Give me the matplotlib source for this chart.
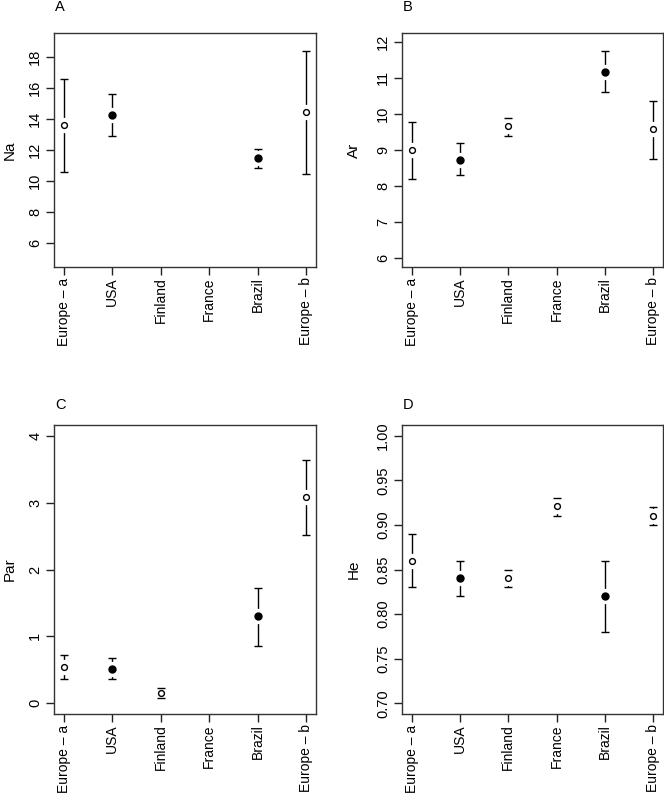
import matplotlib
matplotlib.use("Agg")
import matplotlib.pyplot as plt
import numpy as np

plt.rcParams['font.family'] = ['Liberation Sans', 'DejaVu Sans']
plt.rcParams['font.size'] = 10.5

sites = ["Europe – a", "USA", "Finland", "France", "Brazil", "Europe – b"]
filled = [False, True, False, False, True, False]

# mean, lower, upper per site (None = no data)
na_mean = [13.6, 14.27, None, None, 11.46, 14.44]
na_low = [10.6, 12.93, None, None, 10.86, 10.47]
na_high = [16.58, 15.6, None, None, 12.06, 18.39]

ar_mean = [9.0, 8.73, 9.66, None, 11.17, 9.58]
ar_low = [8.2, 8.30, 9.39, None, 10.6, 8.76]
ar_high = [9.78, 9.19, 9.9, None, 11.73, 10.37]

par_mean = [0.55, 0.52, 0.155, None, 1.30, 3.09]
par_low = [0.36, 0.36, 0.08, None, 0.86, 2.52]
par_high = [0.72, 0.67, 0.23, None, 1.73, 3.64]

he_mean = [0.86, 0.84, 0.84, 0.921, 0.82, 0.91]
he_low = [0.83, 0.82, 0.83, 0.91, 0.78, 0.90]
he_high = [0.89, 0.86, 0.85, 0.93, 0.86, 0.92]

panels = [
    ("A", "Na", na_mean, na_low, na_high, (5, 19), [6, 8, 10, 12, 14, 16, 18], "{:g}"),
    ("B", "Ar", ar_mean, ar_low, ar_high, (6, 12), [6, 7, 8, 9, 10, 11, 12], "{:g}"),
    ("C", "Par", par_mean, par_low, par_high, (0, 4), [0, 1, 2, 3, 4], "{:g}"),
    ("D", "He", he_mean, he_low, he_high, (0.7, 1.0),
     [0.70, 0.75, 0.80, 0.85, 0.90, 0.95, 1.00], "{:.2f}"),
]

W, H = 664, 794
# axes boxes in pixels: left, top, right, bottom
boxes = [(54, 33, 316, 267), (402, 33, 663, 267),
         (54, 425, 316, 714), (402, 425, 663, 714)]
letter_pos = [(55, 7), (403, 7), (55, 405), (403, 405)]
ylabel_x = [10, 354, 10, 354]

fig = plt.figure(figsize=(W / 100, H / 100), dpi=100)

for i, (letter, name, mean, low, high, lim, ticks, fmt) in enumerate(panels):
    l, t, r, b = boxes[i]
    ax = fig.add_axes([l / W, 1 - b / H, (r - l) / W, (b - t) / H])
    x = np.arange(1, 7)
    for j in range(6):
        if mean[j] is None:
            continue
        m = mean[j]
        _, caps, _ = ax.errorbar([x[j]], [m], yerr=[[m - low[j]], [high[j] - m]],
                                 fmt="none", ecolor="black", elinewidth=1.0,
                                 capsize=3.2, capthick=1.0, zorder=2)
        for c in caps:
            c.set_zorder(5)
        # white halo to make a gap in the bar around the point
        ax.plot([x[j]], [m], "o", ms=10, mfc="white", mec="white", zorder=3)
        if filled[j]:
            ax.plot([x[j]], [m], "o", ms=5, mfc="black", mec="black", zorder=4)
        else:
            ax.plot([x[j]], [m], "o", ms=4.2, mfc="white", mec="black",
                    mew=1.0, zorder=4)

    span = lim[1] - lim[0]
    ax.set_ylim(lim[0] - 0.04 * span, lim[1] + 0.04 * span)
    ax.set_xlim(0.8, 6.2)
    ax.set_xticks(x)
    ax.set_xticklabels(sites, rotation=90, fontsize=10)
    ax.set_yticks(ticks)
    ax.set_yticklabels([fmt.format(v) for v in ticks], rotation=90, va="center")
    ax.tick_params(direction="out", length=5.5, width=1, pad=3, colors="#222222",
                   labelcolor="black")
    ax.tick_params(axis="x", pad=2)
    for s in ax.spines.values():
        s.set_linewidth(1.0)
        s.set_color("#333333")
    fig.text(ylabel_x[i] / W, 1 - ((t + b) / 2) / H, name, rotation=90,
             ha="center", va="center", fontsize=11)
    fig.text(letter_pos[i][0] / W, 1 - letter_pos[i][1] / H, letter,
             ha="left", va="center", fontsize=10.5)

fig.savefig("out.png", dpi=100)
